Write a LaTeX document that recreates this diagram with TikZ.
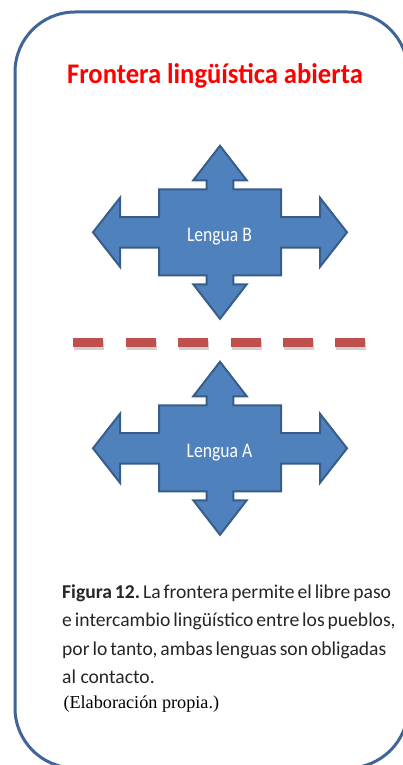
\documentclass[tikz,border=0pt]{standalone}
\usepackage{fontspec}
\setmainfont{Carlito}
\newfontfamily\serifnote{Liberation Serif}
\frenchspacing
\definecolor{framecol}{HTML}{3F6696}
\definecolor{arrowfill}{HTML}{4F81BD}
\definecolor{arrowline}{HTML}{385D8A}
\definecolor{dashred}{HTML}{C0504D}
\definecolor{titlered}{HTML}{FF0000}
\definecolor{bodytext}{HTML}{262626}

\begin{document}
\begin{tikzpicture}[x=1pt,y=-1pt,
  frame/.style={draw=framecol, line width=3pt, rounded corners=60pt},
  quadarrow/.pic={
    \path[fill=arrowfill, draw=arrowline, line width=2pt, line join=miter]
      (0,-86.5) -- (26.7,-52) -- (13.3,-52) -- (13.3,-43) -- (61,-43)
      -- (61,-15.3) -- (100,-15.3) -- (100,-34.5) -- (127,0)
      -- (100,34.5) -- (100,15.3) -- (61,15.3) -- (61,43)
      -- (13.3,43) -- (13.3,52) -- (26.7,52) -- (0,86.5)
      -- (-26.7,52) -- (-13.3,52) -- (-13.3,43) -- (-61,43)
      -- (-61,15.3) -- (-100,15.3) -- (-100,34.5) -- (-127,0)
      -- (-100,-34.5) -- (-100,-15.3) -- (-61,-15.3) -- (-61,-43)
      -- (-13.3,-43) -- (-13.3,-52) -- (-26.7,-52) -- cycle;
  },
  titletext/.style={anchor=base, inner sep=0pt, text=titlered,
    font=\bfseries\fontsize{28.4}{30}\selectfont},
  arrowlabel/.style={anchor=base, inner sep=0pt, text=white,
    font=\fontsize{20.7}{22}\selectfont},
  captionline/.style={anchor=base west, inner sep=0pt, text=bodytext,
    font=\fontsize{19.6}{22}\selectfont},
  sourceline/.style={anchor=base west, inner sep=0pt, text=black,
    font=\serifnote\fontsize{18.2}{20}\selectfont},
  dashline/.style={draw=dashred, line width=9pt, dash pattern=on 30pt off 22.4pt},
  dashshadow/.style={draw=black, opacity=0.18, line width=9pt, dash pattern=on 30pt off 22.4pt},
]
\useasboundingbox (0,0) rectangle (403,765);
\clip (0,0) rectangle (403,765);
\fill[white] (0,0) rectangle (403,765);

% rounded outer frame, running off the right and bottom edges
\draw[frame] (15,12) rectangle (408,768);

% heading (condensed)
\node[titletext] (title) at (215,83.3) {\scalebox{0.937}[1]{Frontera lingüística abierta}};

% the two four-way arrows
\pic at (220,232.3) {quadarrow};
\node[arrowlabel] (lenguaB) at (219.5,241.7) {\scalebox{0.85}[1]{Lengua B}};
\pic at (220,448.3) {quadarrow};
\node[arrowlabel] (lenguaA) at (219.5,457.8) {\scalebox{0.85}[1]{Lengua A}};

% dashed border line with a soft drop shadow
\coordinate (borderW) at (73.3,342.7);
\coordinate (borderE) at (365.3,342.7);
\draw[dashshadow] ([xshift=1pt,yshift=-2.5pt]borderW) -- ([xshift=1pt,yshift=-2.5pt]borderE);
\draw[dashline] (borderW) -- (borderE);

% caption
\node[captionline] (cap1) at (62,598.3) {\makebox[322pt][s]{\textbf{Figura 12.} La frontera permite el libre paso}};
\node[captionline] (cap2) at (62,626.7) {\makebox[322pt][s]{e intercambio lingüístico entre los pueblos,}};
\node[captionline] (cap3) at (62,655) {\makebox[322pt][s]{por lo tanto, ambas lenguas son obligadas}};
\node[captionline] (cap4) at (62,683.3) {al contacto.};
\node[sourceline] (source) at (63.3,708.3) {(Elaboración propia.)};
\end{tikzpicture}
\end{document}
